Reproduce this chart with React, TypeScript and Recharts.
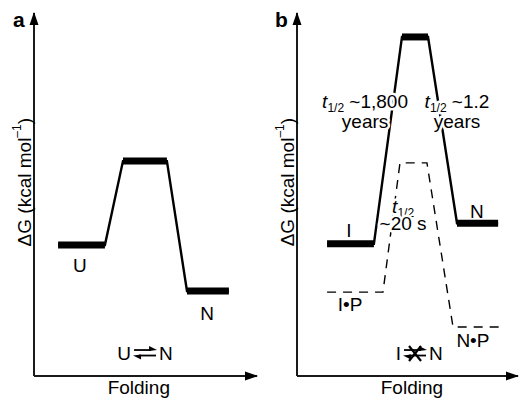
import { LineChart, Line, XAxis, YAxis, ReferenceDot, ReferenceLine } from "recharts";

const FONT = '"Liberation Sans", Arial, Helvetica, sans-serif';
const FS = 19;

// panel a: U -> N, reaction coordinate span of each state and its free energy
const aStates = ["U", "TS", "N"];
const aFrom = [10.8, 39.9, 68.6];
const aTo = [31.8, 59.6, 87.4];
const aEnergy = [36.1, 59.2, 23.4];

// panel b: solid = without pro-region, dashed = with pro-region P
const bStates = ["I", "TS", "N"];
const bFrom = [13.6, 47.5, 72.4];
const bTo = [34.8, 59.3, 91.0];
const bEnergy = [36.4, 93.4, 42.1];

const bpStates = ["I•P", "TS•P", "N•P"];
const bpFrom = [13.6, 46.6, 70.6];
const bpTo = [38.9, 58.8, 91.9];
const bpEnergy = [23.1, 58.7, 13.5];

// state labels
const aLabels = [
  { text: "U", x: 20.6, y: 28.7 },
  { text: "N", x: 77.6, y: 15.4 },
];
const bLabels = [
  { text: "I", x: 23.5, y: 38.3 },
  { text: "N", x: 81.4, y: 43.5 },
  { text: "I•P", x: 24.0, y: 17.9 },
  { text: "N•P", x: 79.6, y: 8.0 },
];

// half-lives
const halfLives = [
  { value: "~1,800", unit: "years", x: 30.8, y: 73.8 },
  { value: "~1.2", unit: "years", x: 72.4, y: 73.8 },
  { value: "", unit: "~20 s", x: 48.0, y: 44.9 },
];

const toPath = (from: number[], to: number[], e: number[]) =>
  from.flatMap((f, i) => [
    { x: f, y: e[i] },
    { x: to[i], y: e[i] },
  ]);

const toBar = (from: number[], to: number[], e: number[], i: number) => [
  { x: from[i], y: e[i] },
  { x: to[i], y: e[i] },
];

const INK = "#000";

function Txt({ cx, cy, text, anchor = "middle", size = FS, weight = "normal" }: any) {
  return (
    <text x={cx} y={cy} textAnchor={anchor} fontSize={size} fontWeight={weight} fontFamily={FONT} fill={INK}>
      {text}
    </text>
  );
}

function AxisTitle({ cx, cy }: any) {
  return (
    <text
      x={cx}
      y={cy}
      textAnchor="middle"
      dominantBaseline="central"
      fontSize={FS}
      fontFamily={FONT}
      fill={INK}
      transform={`rotate(-90 ${cx} ${cy})`}
    >
      ΔG (kcal mol
      <tspan fontSize={12} dy={-7}>–1</tspan>
      <tspan dy={7}>)</tspan>
    </text>
  );
}

// half-life note, drawn with a white halo so the curve runs behind it
const halo = {
  fontSize: FS,
  fontFamily: FONT,
  fill: INK,
  stroke: "#fff",
  strokeWidth: 5,
  strokeLinejoin: "round" as const,
  paintOrder: "stroke",
  textAnchor: "middle" as const,
};

function HalfLife({ cx, cy, value, unit }: any) {
  return (
    <g>
      <text x={cx} y={cy} {...halo}>
        <tspan fontStyle="italic">t</tspan>
        <tspan fontSize={12} dy={4}>1/2</tspan>
        {value ? <tspan dy={-4}>{"\u00a0" + value}</tspan> : null}
      </text>
      <text x={cx} y={cy + (value ? 20 : 17)} {...halo}>
        {unit}
      </text>
    </g>
  );
}

function Equilibrium({ cx, cy, left, right, blocked }: any) {
  const y1 = cy - 10;
  const y2 = cy - 4.5;
  return (
    <g>
      <text x={cx - 14} y={cy} textAnchor="end" fontSize={FS} fontFamily={FONT} fill={INK}>
        {left}
      </text>
      <text x={cx + 14} y={cy} fontSize={FS} fontFamily={FONT} fill={INK}>
        {right}
      </text>
      <line x1={cx - 11} y1={y1} x2={cx + 6} y2={y1} stroke={INK} strokeWidth={1.8} />
      <polygon points={`${cx + 12},${y1} ${cx + 4},${y1 - 4} ${cx + 4},${y1 + 1}`} fill={INK} />
      <line x1={cx - 6} y1={y2} x2={cx + 11} y2={y2} stroke={INK} strokeWidth={1.8} />
      <polygon points={`${cx - 12},${y2} ${cx - 4},${y2 + 4} ${cx - 4},${y2 - 1}`} fill={INK} />
      {blocked ? (
        <g stroke={INK} strokeWidth={2.2}>
          <line x1={cx - 6} y1={cy - 14} x2={cx + 6} y2={cy + 1} />
          <line x1={cx + 6} y1={cy - 14} x2={cx - 6} y2={cy + 1} />
        </g>
      ) : null}
    </g>
  );
}

const ArrowRight = ({ cx, cy }: any) => (
  <polygon points={`${cx + 1},${cy} ${cx - 12},${cy - 4.5} ${cx - 12},${cy + 4.5}`} fill={INK} />
);
const ArrowUp = ({ cx, cy }: any) => (
  <polygon points={`${cx},${cy - 1} ${cx - 4.5},${cy + 12} ${cx + 4.5},${cy + 12}`} fill={INK} />
);

const axisStroke = "#1a1a1a";

const frame = (letter: string, foldingX: number, letterX: number) => [
  <XAxis key="x" type="number" dataKey="x" domain={[0, 100]} hide />,
  <YAxis key="y" type="number" domain={[0, 100]} hide />,
  <ReferenceLine
    key="lx"
    segment={[
      { x: 0, y: 0 },
      { x: 100, y: 0 },
    ]}
    stroke={axisStroke}
    strokeWidth={2}
    ifOverflow="visible"
  />,
  <ReferenceLine
    key="ly"
    segment={[
      { x: 0, y: 0 },
      { x: 0, y: 100 },
    ]}
    stroke={axisStroke}
    strokeWidth={2}
    ifOverflow="visible"
  />,
  <ReferenceDot key="ar" x={100} y={0} r={0} ifOverflow="visible" shape={(p: any) => <ArrowRight {...p} />} />,
  <ReferenceDot key="au" x={0} y={100} r={0} ifOverflow="visible" shape={(p: any) => <ArrowUp {...p} />} />,
  <ReferenceDot
    key="lt"
    x={letterX}
    y={96.1}
    r={0}
    ifOverflow="visible"
    shape={(p: any) => <Txt {...p} text={letter} anchor="start" size={21} weight="bold" />}
  />,
  <ReferenceDot
    key="fd"
    x={foldingX}
    y={-5}
    r={0}
    ifOverflow="visible"
    shape={(p: any) => <Txt {...p} text="Folding" />}
  />,
  <ReferenceDot key="dg" x={-4.3} y={53.4} r={0} ifOverflow="visible" shape={(p: any) => <AxisTitle {...p} />} />,
];

export default function App() {
  return (
    <div
      style={{
        position: "absolute",
        left: 0,
        top: 0,
        width: 519,
        height: 398,
        display: "flex",
        background: "#fff",
      }}
    >
      <LineChart width={260} height={398} margin={{ top: 13, right: 3, bottom: 22, left: 34 }}>
        {frame("a", 47, -9.4)}
        <Line
          data={toPath(aFrom, aTo, aEnergy)}
          dataKey="y"
          stroke={INK}
          strokeWidth={2.4}
          dot={false}
          isAnimationActive={false}
        />
        {aStates.map((s, i) => (
          <Line
            key={s}
            data={toBar(aFrom, aTo, aEnergy, i)}
            dataKey="y"
            stroke={INK}
            strokeWidth={7}
            dot={false}
            isAnimationActive={false}
          />
        ))}
        {aLabels.map((l) => (
          <ReferenceDot
            key={l.text}
            x={l.x}
            y={l.y}
            r={0}
            ifOverflow="visible"
            shape={(p: any) => <Txt {...p} text={l.text} />}
          />
        ))}
        <ReferenceDot
          x={49.8}
          y={4.4}
          r={0}
          ifOverflow="visible"
          shape={(p: any) => <Equilibrium {...p} left="U" right="N" />}
        />
      </LineChart>

      <LineChart width={259} height={398} margin={{ top: 13, right: 1, bottom: 22, left: 37 }}>
        {frame("b", 52, -10)}
        <Line
          data={toPath(bpFrom, bpTo, bpEnergy)}
          dataKey="y"
          stroke={INK}
          strokeWidth={1.4}
          strokeDasharray="9 7"
          dot={false}
          isAnimationActive={false}
        />
        <Line
          data={toPath(bFrom, bTo, bEnergy)}
          dataKey="y"
          stroke={INK}
          strokeWidth={2.4}
          dot={false}
          isAnimationActive={false}
        />
        {bStates.map((s, i) => (
          <Line
            key={s}
            data={toBar(bFrom, bTo, bEnergy, i)}
            dataKey="y"
            stroke={INK}
            strokeWidth={7}
            dot={false}
            isAnimationActive={false}
          />
        ))}
        {bLabels.map((l) => (
          <ReferenceDot
            key={l.text}
            x={l.x}
            y={l.y}
            r={0}
            ifOverflow="visible"
            shape={(p: any) => <Txt {...p} text={l.text} />}
          />
        ))}
        {halfLives.map((h) => (
          <ReferenceDot
            key={h.unit + h.value}
            x={h.x}
            y={h.y}
            r={0}
            ifOverflow="visible"
            shape={(p: any) => <HalfLife {...p} value={h.value} unit={h.unit} />}
          />
        ))}
        <ReferenceDot
          x={53.4}
          y={4.4}
          r={0}
          ifOverflow="visible"
          shape={(p: any) => <Equilibrium {...p} left="I" right="N" blocked />}
        />
      </LineChart>
    </div>
  );
}
